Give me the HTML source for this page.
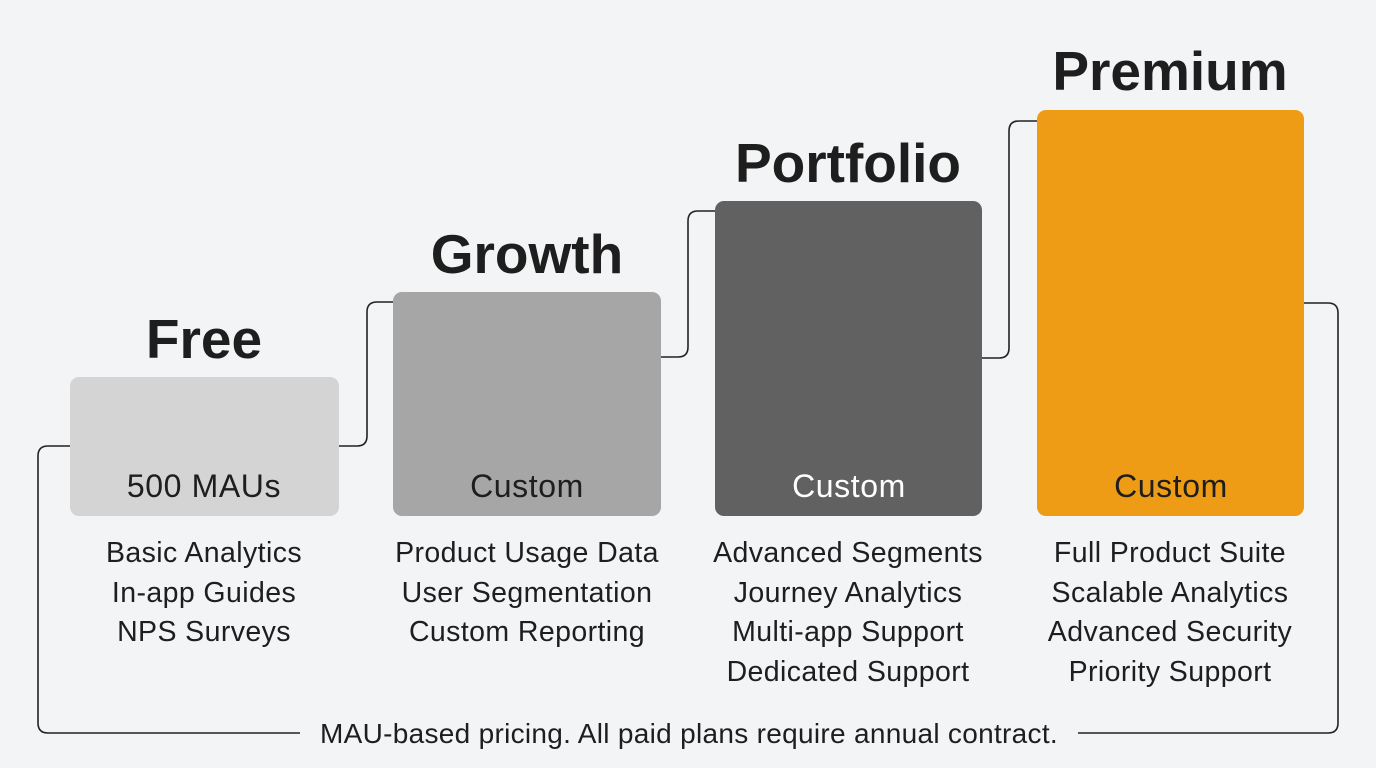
<!DOCTYPE html>
<html><head><meta charset="utf-8"><style>
body{margin:0;width:1376px;height:768px;background:#f3f4f5;font-family:"Liberation Sans",sans-serif;overflow:hidden;position:relative}
.b{position:absolute;border-radius:9px}
.t{position:absolute;font-weight:bold;font-size:55px;color:#1e1e1e;text-align:center;width:400px}
.l{position:absolute;font-size:32px;letter-spacing:0.6px;text-align:center;width:268px;top:468px}
.f{position:absolute;font-size:28.5px;letter-spacing:0.4px;line-height:39.7px;text-align:center;width:360px;top:534px;color:#1e1e1e}
</style></head><body>
<svg width="1376" height="768" style="position:absolute;left:0;top:0" fill="none" stroke="#222" stroke-width="1.6">
<path d="M70 446H48Q38 446 38 456V723Q38 733 48 733H300"/>
<path d="M1078 733H1328Q1338 733 1338 723V313Q1338 303 1328 303H1304"/>
<path d="M339 446H357Q367 446 367 436V312Q367 302 377 302H393"/>
<path d="M661 357H678Q688 357 688 347V221Q688 211 698 211H715"/>
<path d="M982 358H999Q1009 358 1009 348V131Q1009 121 1019 121H1037"/>
</svg>
<div class="b" style="left:70px;top:377px;width:269px;height:139px;background:#d4d4d4"></div>
<div class="b" style="left:393px;top:292px;width:268px;height:224px;background:#a6a6a6"></div>
<div class="b" style="left:715px;top:201px;width:267px;height:315px;background:#616161"></div>
<div class="b" style="left:1037px;top:110px;width:267px;height:406px;background:#ee9c16"></div>
<div class="t" style="left:4px;top:307px">Free</div>
<div class="t" style="left:327px;top:222px">Growth</div>
<div class="t" style="left:648px;top:131px">Portfolio</div>
<div class="t" style="left:970px;top:39px">Premium</div>
<div class="l" style="left:70px;color:#1e1e1e">500 MAUs</div>
<div class="l" style="left:393px;color:#1e1e1e">Custom</div>
<div class="l" style="left:715px;color:#fff">Custom</div>
<div class="l" style="left:1037px;color:#1e1e1e">Custom</div>
<div class="f" style="left:24px">Basic Analytics<br>In-app Guides<br>NPS Surveys</div>
<div class="f" style="left:347px">Product Usage Data<br>User Segmentation<br>Custom Reporting</div>
<div class="f" style="left:668px">Advanced Segments<br>Journey Analytics<br>Multi-app Support<br>Dedicated Support</div>
<div class="f" style="left:990px">Full Product Suite<br>Scalable Analytics<br>Advanced Security<br>Priority Support</div>
<div style="position:absolute;left:290px;width:798px;top:718px;text-align:center;font-size:28px;letter-spacing:0.3px;color:#1e1e1e">MAU-based pricing. All paid plans require annual contract.</div>
</body></html>
